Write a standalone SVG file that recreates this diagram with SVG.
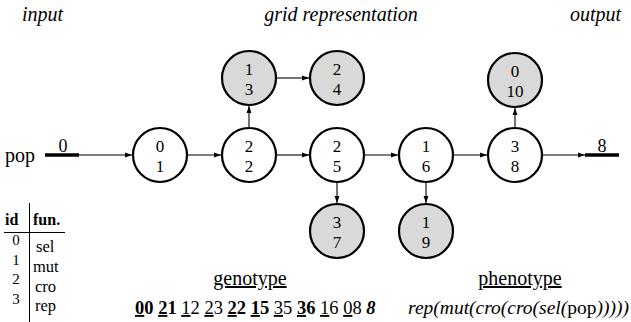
<svg xmlns="http://www.w3.org/2000/svg" width="631" height="322" viewBox="0 0 631 322" font-family="'Liberation Serif', 'Times New Roman', serif">
  <style>
    .lbl { font-size: 20px; font-style: italic; }
    .num { font-size: 17px; text-anchor: middle; }
    .node { stroke: #000; stroke-width: 2.2; }
    .on { fill: #fff; }
    .off { fill: #d9d9d9; }
    .edge { stroke: #000; stroke-width: 1.1; fill: none; marker-end: url(#arrow); }
    .io { stroke: #000; stroke-width: 3.5; }
    .rule { stroke: #000; stroke-width: 1; }
    .tab { font-size: 15px; }
    .fn { font-size: 16.5px; }
    .hd { font-size: 16px; font-weight: bold; }
    .ul { text-decoration: underline; }
    .b { font-weight: bold; }
  </style>
  <defs>
    <marker id="arrow" viewBox="0 0 10 10" refX="10" refY="5" markerWidth="7" markerHeight="7" markerUnits="userSpaceOnUse" orient="auto">
      <path d="M0,1.5 L10,5 L0,8.5 z" fill="#000"/>
    </marker>
  </defs>

  <!-- column headings -->
  <text class="lbl" x="22" y="21">input</text>
  <text class="lbl" x="341" y="21" text-anchor="middle">grid representation</text>
  <text class="lbl" x="621" y="21" text-anchor="end">output</text>

  <!-- connectors -->
  <g id="connectors">
    <line class="io" x1="45" y1="155" x2="79" y2="155"/>
    <line class="edge" x1="79" y1="155" x2="132" y2="155"/>
    <line class="edge" x1="188" y1="155" x2="221" y2="155"/>
    <line class="edge" x1="249" y1="127" x2="249" y2="106"/>
    <line class="edge" x1="277" y1="78" x2="309" y2="78"/>
    <line class="edge" x1="277" y1="155" x2="309" y2="155"/>
    <line class="edge" x1="337" y1="183" x2="337" y2="203"/>
    <line class="edge" x1="365" y1="155" x2="398" y2="155"/>
    <line class="edge" x1="426" y1="183" x2="426" y2="203"/>
    <line class="edge" x1="454" y1="155" x2="487" y2="155"/>
    <line class="edge" x1="515" y1="127" x2="515" y2="108"/>
    <line class="edge" x1="543" y1="155" x2="585" y2="155"/>
    <line class="io" x1="585" y1="155" x2="619" y2="155"/>
  </g>

  <!-- input / output terminals -->
  <g id="input">
    <text x="5" y="162" font-size="20">pop</text>
    <text x="63" y="152" font-size="18" text-anchor="middle">0</text>
  </g>
  <g id="output">
    <text x="602" y="152" font-size="18" text-anchor="middle">8</text>
  </g>

  <!-- grid nodes: function id over node index -->
  <g id="n1"><circle class="node on" cx="160" cy="155" r="27"/><text class="num" x="160" y="152">0</text><text class="num" x="160" y="172">1</text></g>
  <g id="n2"><circle class="node on" cx="249" cy="155" r="27"/><text class="num" x="249" y="152">2</text><text class="num" x="249" y="172">2</text></g>
  <g id="n3"><circle class="node off" cx="249" cy="78" r="27"/><text class="num" x="249" y="75">1</text><text class="num" x="249" y="95">3</text></g>
  <g id="n4"><circle class="node off" cx="337" cy="78" r="27"/><text class="num" x="337" y="75">2</text><text class="num" x="337" y="95">4</text></g>
  <g id="n5"><circle class="node on" cx="337" cy="155" r="27"/><text class="num" x="337" y="152">2</text><text class="num" x="337" y="172">5</text></g>
  <g id="n7"><circle class="node off" cx="337" cy="231" r="27"/><text class="num" x="337" y="228">3</text><text class="num" x="337" y="248">7</text></g>
  <g id="n6"><circle class="node on" cx="426" cy="155" r="27"/><text class="num" x="426" y="152">1</text><text class="num" x="426" y="172">6</text></g>
  <g id="n9"><circle class="node off" cx="426" cy="231" r="27"/><text class="num" x="426" y="228">1</text><text class="num" x="426" y="248">9</text></g>
  <g id="n8"><circle class="node on" cx="515" cy="155" r="27"/><text class="num" x="515" y="152">3</text><text class="num" x="515" y="172">8</text></g>
  <g id="n10"><circle class="node off" cx="515" cy="80" r="27"/><text class="num" x="515" y="77">0</text><text class="num" x="515" y="97">10</text></g>

  <!-- function table -->
  <g id="table">
    <line class="rule" x1="29.5" y1="203" x2="29.5" y2="322"/>
    <line class="rule" x1="4" y1="232.5" x2="65" y2="232.5"/>
    <text class="hd" x="5" y="225">id</text>
    <text class="hd" x="33" y="225">fun.</text>
    <text class="tab" x="16" y="245" text-anchor="middle">0</text>
    <text class="tab" x="16" y="265" text-anchor="middle">1</text>
    <text class="tab" x="16" y="284" text-anchor="middle">2</text>
    <text class="tab" x="16" y="304" text-anchor="middle">3</text>
    <text class="fn" x="36" y="252">sel</text>
    <text class="fn" x="33" y="272">mut</text>
    <text class="fn" x="35" y="292">cro</text>
    <text class="fn" x="35" y="311">rep</text>
  </g>

  <!-- genotype string: underlined digit = function id, bold = active node -->
  <g id="genotype">
    <text x="250" y="285" text-anchor="middle" class="ul" font-size="20">genotype</text>
    <text x="135" y="314" font-size="18.5" xml:space="preserve"><tspan class="b"><tspan class="ul">0</tspan>0</tspan> <tspan class="b"><tspan class="ul">2</tspan>1</tspan> <tspan class="ul">1</tspan>2 <tspan class="ul">2</tspan>3 <tspan class="b"><tspan class="ul">2</tspan>2</tspan> <tspan class="b"><tspan class="ul">1</tspan>5</tspan> <tspan class="ul">3</tspan>5 <tspan class="b"><tspan class="ul">3</tspan>6</tspan> <tspan class="ul">1</tspan>6 <tspan class="ul">0</tspan>8 <tspan class="b" font-style="italic">8</tspan></text>
  </g>

  <!-- phenotype expression -->
  <g id="phenotype">
    <text x="520" y="285" text-anchor="middle" class="ul" font-size="20">phenotype</text>
    <text x="629" y="314" text-anchor="end" font-size="19.5"><tspan font-style="italic">rep(mut(cro(cro(sel(</tspan>pop<tspan font-style="italic">)))))</tspan></text>
  </g>
</svg>
